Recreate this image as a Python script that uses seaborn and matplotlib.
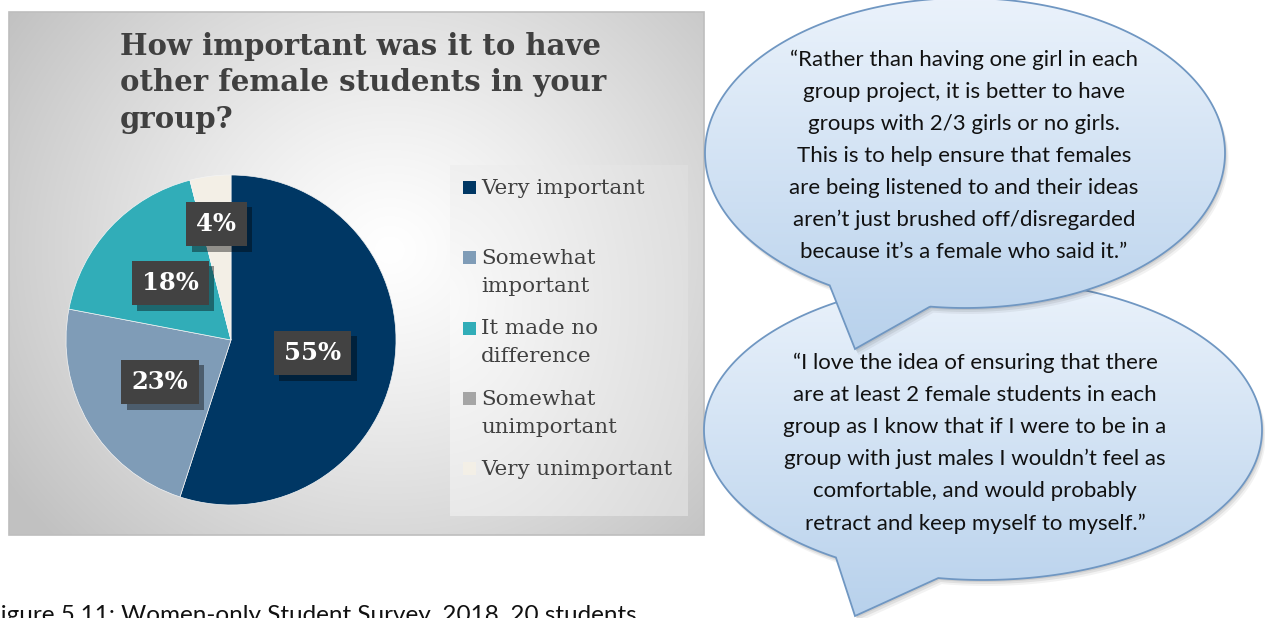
import numpy as np
import matplotlib
matplotlib.use("Agg")
import matplotlib.pyplot as plt
import matplotlib.patheffects as pe
from matplotlib.patches import Rectangle, PathPatch
from matplotlib.path import Path
import seaborn as sns

# Survey responses (percent of students)
categories = ["Very important", "Somewhat important", "It made no difference",
              "Somewhat unimportant", "Very unimportant"]
legend_labels = ["Very important", "Somewhat\nimportant", "It made no\ndifference",
                 "Somewhat\nunimportant", "Very unimportant"]
values = [55, 23, 18, 0, 4]
colors = ["#003764", "#7F9CB7", "#31ADB8", "#A5A5A5", "#F3EFE6"]

title = "How important was it to have\nother female students in your\ngroup?"
caption = "Figure 5.11: Women-only Student Survey, 2018, 20 students"
quote_1 = ("\u201cRather than having one girl in each\n"
           "group project, it is better to have\n"
           "groups with 2/3 girls or no girls.\n"
           "This is to help ensure that females\n"
           "are being listened to and their ideas\n"
           "aren\u2019t just brushed off/disregarded\n"
           "because it\u2019s a female who said it.\u201d")
quote_2 = ("\u201cI love the idea of ensuring that there\n"
           "are at least 2 female students in each\n"
           "group as I know that if I were to be in a\n"
           "group with just males I wouldn\u2019t feel as\n"
           "comfortable, and would probably\n"
           "retract and keep myself to myself.\u201d")

sns.set_theme(style="white")
plt.rcParams["font.family"] = ["DejaVu Serif"]

W, H = 1265, 618
fig = plt.figure(figsize=(W / 100, H / 100), dpi=100)
fig.patch.set_facecolor("white")

# Canvas in pixel coordinates for the decorative layers
bg = fig.add_axes([0, 0, 1, 1])
bg.set_xlim(0, W)
bg.set_ylim(H, 0)
bg.axis("off")

# Chart area with a soft radial gradient
x0, x1, y0, y1 = 9, 704, 12, 535
gx, gy = np.meshgrid(np.linspace(x0, x1, 300), np.linspace(y0, y1, 240))
d = np.sqrt(((gx - 390) / 460) ** 2 + ((gy - 250) / 420) ** 2)
shade = np.clip(1.0 - 0.24 * d ** 1.2, 0.76, 1.0)
bg.imshow(np.dstack([shade, shade, shade]), extent=(x0, x1, y1, y0),
          interpolation="bilinear", zorder=1, aspect="auto")
bg.add_patch(Rectangle((x0, y0), x1 - x0, y1 - y0, fill=False,
                       edgecolor="#BEBEBE", lw=1.2, zorder=2))

# Legend panel
lx0, lx1, ly0, ly1 = 450, 688, 165, 516
lgx, lgy = np.meshgrid(np.linspace(lx0, lx1, 200), np.linspace(ly0, ly1, 200))
ld = np.sqrt(((lgx - 440) / 320) ** 2 + ((lgy - 300) / 420) ** 2)
lshade = np.clip(0.985 - 0.14 * ld, 0.86, 1.0)
bg.imshow(np.dstack([lshade, lshade, lshade]), extent=(lx0, lx1, ly1, ly0),
          interpolation="bilinear", zorder=2, aspect="auto")

# Title
bg.text(120, 32, title, fontsize=21, fontweight="bold", color="#404040",
        va="top", ha="left", linespacing=1.32, zorder=5)

# Legend entries: square swatch beside the first line of each label
for i, (lab, col) in enumerate(zip(legend_labels, colors)):
    base = 194 + 70.25 * i
    bg.add_patch(Rectangle((463, base - 13), 13, 13, facecolor=col,
                           edgecolor="none", zorder=5))
    for j, line in enumerate(lab.split("\n")):
        bg.text(481, base + 28 * j, line, fontsize=15.4, color="#404040",
                va="baseline", ha="left", zorder=5)


# Speech bubbles: ellipse merged with a pointed tail
def bubble_path(cx, cy, rw, rh, base_l, base_r, tip):
    tl = np.arctan2((base_l[1] - cy) / rh, (base_l[0] - cx) / rw)
    tr = np.arctan2((base_r[1] - cy) / rh, (base_r[0] - cx) / rw)
    t = np.linspace(tr, tl - 2 * np.pi, 500)
    pts = np.column_stack([cx + rw * np.cos(t), cy + rh * np.sin(t)])
    pts = np.vstack([pts, [tip], pts[:1]])
    return Path(pts, closed=True)


def bubble(cx, cy, rw, rh, base_l, base_r, tip, z):
    path = bubble_path(cx, cy, rw, rh, base_l, base_r, tip)
    for k, a in [(6, 0.05), (4, 0.07), (2, 0.08)]:
        sh = Path(path.vertices + [k * 0.6, k], path.codes)
        bg.add_patch(PathPatch(sh, facecolor="black", edgecolor="none",
                               alpha=a, zorder=z))
    g = np.linspace(0, 1, 256)[:, None, None]
    c_top = np.array([0.92, 0.95, 0.985])
    c_bot = np.array([0.72, 0.82, 0.925])
    img = c_top * (1 - g) + c_bot * g
    img = np.repeat(img, 2, axis=1)
    top, bot = cy - rh, max(tip[1], cy + rh)
    im = bg.imshow(img, extent=(cx - rw - 5, cx + rw + 5, bot + 2, top - 2),
                   interpolation="bilinear", zorder=z + 0.1, aspect="auto")
    clip = PathPatch(path, facecolor="none", edgecolor="none")
    bg.add_patch(clip)
    im.set_clip_path(clip)
    bg.add_patch(PathPatch(path, facecolor="none", edgecolor="#7097C2",
                           lw=1.3, zorder=z + 0.2))


bubble(983, 430, 279, 150, (833, 560), (938, 579), (855, 616), 10)
bubble(965, 153, 260, 155, (827, 288), (930, 307), (855, 349), 20)

bg.text(964, 156, quote_1, fontsize=16, family=["Lato", "DejaVu Sans"],
        color="#111111", ha="center", va="center", linespacing=1.75, zorder=30)
bg.text(975, 443, quote_2, fontsize=16, family=["Lato", "DejaVu Sans"],
        color="#111111", ha="center", va="center", linespacing=1.75, zorder=30)

# Caption below the chart
bg.text(-13, 622, caption, fontsize=17.5, family=["Lato", "DejaVu Sans"],
        color="#111111", ha="left", va="baseline", zorder=30)

# Pie chart
cx, cy, r = 231, 340, 165
pie_ax = fig.add_axes([(cx - r) / W, (H - cy - r) / H, 2 * r / W, 2 * r / H])
wedges, _ = pie_ax.pie(values, colors=colors, startangle=90, counterclock=False,
                       wedgeprops=dict(linewidth=0.5, edgecolor="#f4f4f4"))
pie_ax.set_xlim(-1, 1)
pie_ax.set_ylim(-1, 1)
pie_ax.set_zorder(3)
pie_ax.patch.set_alpha(0)
pie_ax.axis("off")

# Value labels inside dark boxes
label_dist = [0.50, 0.50, 0.505, 0.5, 0.71]
total = sum(values)
start = 90.0
for v, dist in zip(values, label_dist):
    sweep = 360.0 * v / total
    mid = np.deg2rad(start - sweep / 2)
    start -= sweep
    if v == 0:
        continue
    t = pie_ax.text(dist * np.cos(mid), dist * np.sin(mid), f"{v}%",
                    ha="center", va="center", fontsize=17.5, fontweight="bold",
                    color="white",
                    bbox=dict(boxstyle="square,pad=0.42", facecolor="#424242",
                              edgecolor="none"))
    t.get_bbox_patch().set_path_effects(
        [pe.withSimplePatchShadow(offset=(4, -4), shadow_rgbFace="black", alpha=0.4),
         pe.Normal()])

fig.savefig("out.png", dpi=100)
